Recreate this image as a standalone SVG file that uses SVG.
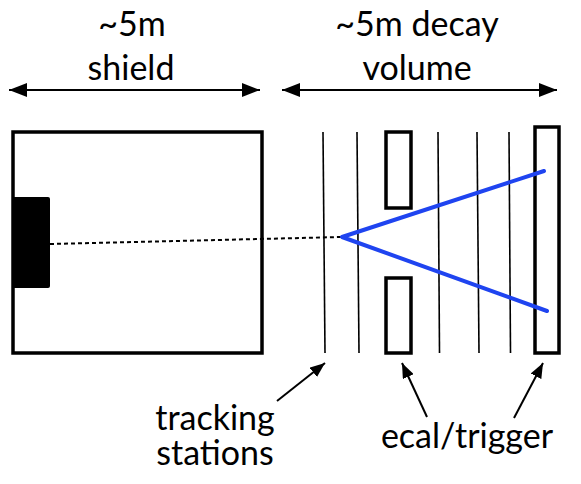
<svg xmlns="http://www.w3.org/2000/svg" width="581" height="484" viewBox="0 0 581 484">
<defs>
<marker id="ah" markerWidth="10" markerHeight="8" refX="9" refY="4" orient="auto" markerUnits="userSpaceOnUse" viewBox="0 0 10 8">
<path d="M0,0 L10,4 L0,8 Z" fill="#000"/>
</marker>
<marker id="big" markerWidth="18" markerHeight="14" refX="18" refY="7" orient="auto-start-reverse" markerUnits="userSpaceOnUse" viewBox="0 0 18 14">
<path d="M0,0 L18,7 L0,14 Z" fill="#000"/>
</marker>
<marker id="sm" markerWidth="15" markerHeight="12" refX="15" refY="6" orient="auto" markerUnits="userSpaceOnUse" viewBox="0 0 15 12">
<path d="M0,0 L15,6 L0,12 Z" fill="#000"/>
</marker>
</defs>
<style>
text{font-family:Lato,"Open Sans","Liberation Sans",sans-serif;font-size:34px;fill:#000;text-anchor:middle}
.box{fill:none;stroke:#000;stroke-width:3.5}
.trk{stroke:#000;stroke-width:1.6}
.dim{stroke:#000;stroke-width:2}
.ptr{stroke:#000;stroke-width:2}
.trk2{fill:none;stroke:#1f44f0;stroke-width:4;stroke-linecap:round;stroke-linejoin:round}
</style>
<rect width="581" height="484" fill="#fff"/>
<g id="labels-top">
<text x="132" y="36">~5m</text>
<text x="131" y="80">shield</text>
<text x="417" y="36">~5m decay</text>
<text x="417" y="80">volume</text>
</g>
<g id="shield">
<rect class="box" x="13" y="132" width="249" height="221"/>
<rect x="12" y="197" width="38" height="91" rx="2" fill="#000"/>
</g>
<g id="tracking-stations">
<line class="trk" x1="323" y1="132" x2="325" y2="353"/>
<line class="trk" x1="357" y1="132" x2="359" y2="353"/>
<line class="trk" x1="438" y1="132" x2="439.5" y2="353"/>
<line class="trk" x1="477" y1="132" x2="479" y2="353"/>
<line class="trk" x1="509" y1="132" x2="510.5" y2="353"/>
</g>
<g id="ecal">
<rect class="box" x="386" y="132" width="25" height="76"/>
<rect class="box" x="386" y="278" width="25" height="75"/>
</g>
<g id="trigger">
<rect class="box" x="535" y="127" width="24" height="226"/>
</g>
<g id="connectors">
<line class="dim" x1="9" y1="90" x2="260" y2="90" marker-start="url(#big)" marker-end="url(#big)"/>
<line class="dim" x1="282" y1="90" x2="557" y2="90" marker-start="url(#big)" marker-end="url(#big)"/>
<line x1="50" y1="244" x2="342" y2="237" stroke="#000" stroke-width="2" stroke-dasharray="4 3"/>
<polyline class="trk2" points="544,171 342,237 547,311"/>
<line class="ptr" x1="277" y1="401" x2="325" y2="363" marker-end="url(#sm)"/>
<line class="ptr" x1="427" y1="417" x2="402" y2="363" marker-end="url(#sm)"/>
<line class="ptr" x1="514" y1="418" x2="543" y2="363" marker-end="url(#sm)"/>
</g>
<g id="labels-bottom">
<text x="215" y="430">tracking</text>
<text x="215" y="465">stations</text>
<text x="467" y="448">ecal/trigger</text>
</g>
</svg>
